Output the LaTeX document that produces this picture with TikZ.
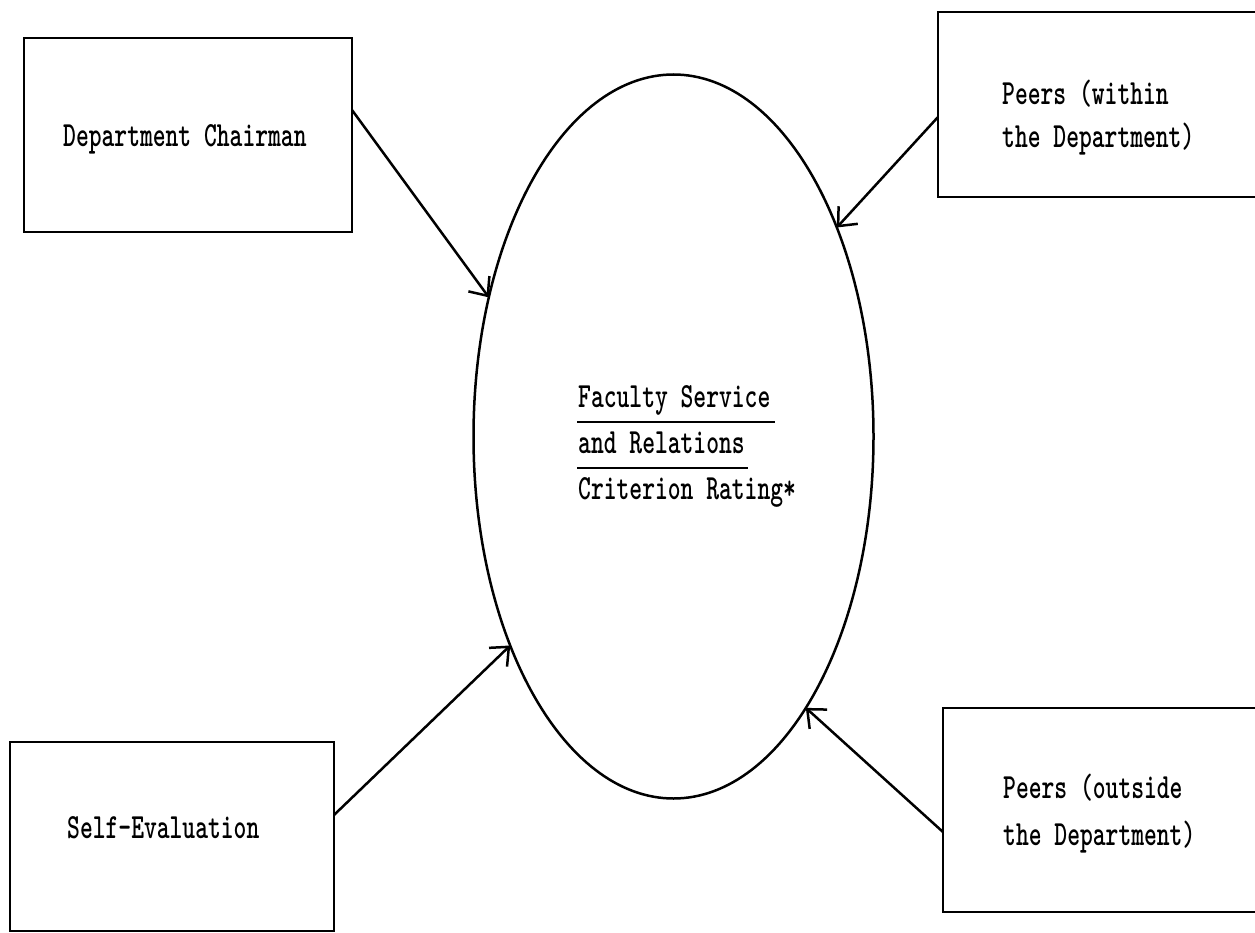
\documentclass[tikz,border=0pt]{standalone}
\usetikzlibrary{shapes.geometric,arrows.meta}
\begin{document}
\begin{tikzpicture}[x=1pt,y=-1pt,
  box/.style={draw=black, line width=2.2pt, rectangle, inner sep=0pt, outer sep=0pt, anchor=north west},
  lbl/.style={font=\fontsize{24.4}{30}\selectfont\ttfamily\bfseries, inner sep=0pt, yscale=1.45, anchor=base west},
  rating/.style={draw=black, ellipse, line width=2.5pt, inner sep=0pt, outer sep=0pt},
  feed/.style={line width=2.5pt, -{Straight Barb[length=15pt,width=26pt,line width=2.5pt]}},
  uline/.style={line width=2.8pt}]
\useasboundingbox (0,0) rectangle (1255,933);
\clip (0,0) rectangle (1255,933);
\fill[white] (0,0) rectangle (1255,933);

% source boxes (the right-hand ones run off the page edge)
\node[box, minimum width=328pt, minimum height=194pt] (chair) at (24,38) {};
\node[box, minimum width=340pt, minimum height=185pt] (within) at (938,12) {};
\node[box, minimum width=324pt, minimum height=189pt] (self) at (10,742) {};
\node[box, minimum width=340pt, minimum height=204pt] (outside) at (943,708) {};

% central criterion ellipse
\node[rating, minimum width=400pt, minimum height=724pt] (crit) at (673.5,436.5) {};

% box labels
\node[lbl] (chairtxt) at (63,147) {Department Chairman};
\node[lbl] (within1) at (1002,105) {Peers (within};
\node[lbl] (within2) at (1002,148) {the Department)};
\node[lbl] (selftxt) at (67,838) {Self-Evaluation};
\node[lbl] (outside1) at (1003,798) {Peers (outside};
\node[lbl] (outside2) at (1003,845) {the Department)};

% ellipse label
\node[lbl] (c1) at (578,407) {Faculty Service};
\node[lbl] (c2) at (578,453) {and Relations};
\node[lbl] (c3) at (578,499) {Criterion Rating*};
\draw[uline] ([xshift=-1pt,yshift=-15pt]c1.base west) -- ([xshift=4pt,yshift=-15pt]c1.base east);
\draw[uline] ([xshift=-1pt,yshift=-15pt]c2.base west) -- ([xshift=3pt,yshift=-15pt]c2.base east);

% rating inputs
\draw[feed] ([yshift=25pt]chair.east) -- (crit.143.7);
\draw[feed] ([yshift=-12.5pt]within.west) -- (crit.52.1);
\draw[feed] ([yshift=21.5pt]self.east) -- (crit.232.6);
\draw[feed] ([yshift=-22pt]outside.west) -- (crit.296.4);
\end{tikzpicture}
\end{document}
